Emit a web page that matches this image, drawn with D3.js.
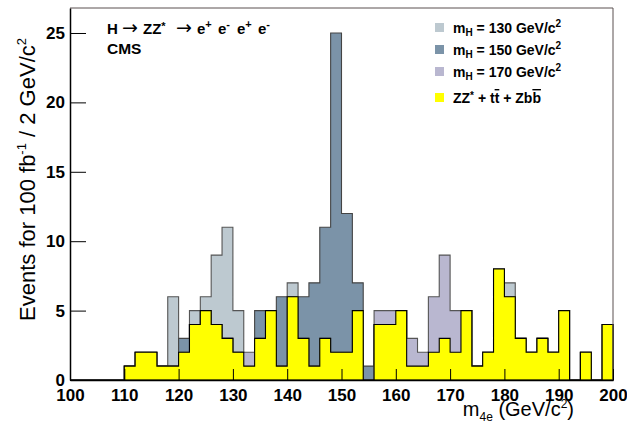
<!DOCTYPE html>
<html><head><meta charset="utf-8">
<script src="https://cdn.jsdelivr.net/npm/d3@7"></script>
<style>body{margin:0;background:#fff}text{font-family:"Liberation Sans",Arial,Helvetica,sans-serif}</style>
</head><body><svg id="c" width="627" height="425"></svg>
<script>
// bin lower edges (GeV/c^2), width 2
const binLow = [100,102,104,106,108,110,112,114,116,118,120,122,124,126,128,130,132,134,136,138,
                140,142,144,146,148,150,152,154,156,158,160,162,164,166,168,170,172,174,176,178,
                180,182,184,186,188,190,192,194,196,198];
const binWidth = 2;
// background ZZ* + tt + Zbb
const bkg = [0,0,0,0,0,1,2,2,1,1, 2,4,5,4,3,2,1,3,5,1, 6,3,1,3,2,2,5,0,4,4,
             5,1,1,2,3,2,5,1,2,8, 6,3,2,3,2,5,0,2,0,4];
// signal contributions (stacked on background)
const sig130 = [0,0,0,0,0,0,0,0,0,5, 0,1,1,5,8,3,0,0,0,0, 1,0,0,0,0,0,0,0,0,0,
                0,0,0,0,0,0,0,0,0,0, 1,0,0,0,0,0,0,0,0,0];
const sig150 = [0,0,0,0,0,0,0,0,0,0, 1,0,0,0,0,0,0,2,0,5, 0,3,6,8,23,10,2,1,0,0,
                0,0,0,0,0,0,0,0,0,0, 0,0,0,0,0,0,0,0,0,0];
const sig170 = [0,0,0,0,0,0,0,0,0,0, 0,0,0,0,0,0,1,0,0,0, 0,0,0,0,0,0,0,0,1,1,
                0,2,1,4,6,3,0,0,0,0, 0,0,0,0,0,0,0,0,0,0];
const xMajorTicks = [100,110,120,130,140,150,160,170,180,190,200];
const yMajorTicks = [0,5,10,15,20,25];
const legendLabels = ["130","150","170"];

const L = 70, R = 613, T = 8, B = 380;
const svg = d3.select("#c");
const x = d3.scaleLinear().domain([100,200]).range([L,R]);
const y = d3.scaleLinear().domain([0,26.8]).range([B,T]);

function pts(vals){
  const p = vals.map((v,i)=>[binLow[i], v]);
  p.push([binLow[binLow.length-1]+binWidth, vals[vals.length-1]]);
  return p;
}
const area = d3.area().x(d=>x(d[0])).y0(y(0)).y1(d=>y(d[1])).curve(d3.curveStepAfter);

const series = [
  {sig: sig130, fill:"#bdc9d0", stroke:"#555"},
  {sig: sig150, fill:"#7b93a8", stroke:"#444"},
  {sig: sig170, fill:"#b9b7d0", stroke:"#555"}
];
series.forEach(s=>{
  const tot = bkg.map((b,i)=>b+s.sig[i]);
  svg.append("path").attr("d", area(pts(tot))).attr("fill", s.fill)
    .attr("stroke", s.stroke).attr("stroke-width",1.1);
});
svg.append("path").attr("d", area(pts(bkg))).attr("fill","#ffff00")
  .attr("stroke","#000").attr("stroke-width",1.1);

// frame top/right
svg.append("path").attr("d",`M${L},${T}H${R}V${B}`).attr("fill","none").attr("stroke","#5a5050").attr("stroke-width",1);

// x axis
const xMinor = binLow.filter(v=>xMajorTicks.indexOf(v)<0);
const gx = svg.append("g").attr("transform",`translate(0,${B})`);
gx.call(d3.axisBottom(x).tickValues(xMinor).tickSize(-7).tickFormat(""));
gx.call(d3.axisBottom(x).tickValues(xMajorTicks).tickSizeInner(-11).tickSizeOuter(0).tickPadding(9).tickFormat(d3.format("d")));
gx.selectAll("text").attr("font-size",17).attr("font-weight","bold").attr("fill","#000");
gx.selectAll("line").attr("stroke","#000");
gx.selectAll(".domain").attr("stroke","#000").attr("stroke-width",1.5);

// y axis
const yMinor = d3.range(0,27).filter(v=>v%5!==0);
const gy = svg.append("g").attr("transform",`translate(${L},0)`);
gy.call(d3.axisLeft(y).tickValues(yMinor).tickSize(-8).tickFormat(""));
gy.call(d3.axisLeft(y).tickValues(yMajorTicks).tickSizeInner(-16).tickSizeOuter(0).tickPadding(5).tickFormat(d3.format("d")));
gy.selectAll("text").attr("font-size",17).attr("font-weight","bold").attr("fill","#000");
gy.selectAll("line").attr("stroke","#000");
gy.selectAll(".domain").attr("stroke","#000").attr("stroke-width",1.5);

// y title
const yt = svg.append("text").attr("transform","translate(35,38) rotate(-90)")
  .attr("text-anchor","end").attr("font-size",22).attr("fill","#000");
yt.append("tspan").text("Events for 100 fb");
yt.append("tspan").attr("font-size",13).attr("dy",-9).text("-1");
yt.append("tspan").attr("dy",9).text(" / 2 GeV/c");
yt.append("tspan").attr("font-size",13).attr("dy",-9).text("2");

// x title
const xt = svg.append("text").attr("x",574).attr("y",416).attr("text-anchor","end")
  .attr("font-size",20).attr("fill","#000");
xt.append("tspan").text("m");
xt.append("tspan").attr("font-size",12).attr("dy",5).text("4e");
xt.append("tspan").attr("dy",-5).text(" (GeV/c");
xt.append("tspan").attr("font-size",12).attr("dy",-8).text("2");
xt.append("tspan").attr("dy",8).text(")");

// top-left label
const by = 34;
const t1 = svg.append("text").attr("font-size",15).attr("font-weight","bold");
t1.append("tspan").attr("x",107).attr("y",by).text("H");
t1.append("tspan").attr("x",122).attr("y",by).attr("font-family","DejaVu Sans").attr("font-weight","normal").attr("font-size",19).text("\u2192");
t1.append("tspan").attr("x",143).attr("y",by).text("ZZ");
t1.append("tspan").attr("y",by-4).attr("font-size",11).text("*");
t1.append("tspan").attr("x",176).attr("y",by).attr("font-family","DejaVu Sans").attr("font-weight","normal").attr("font-size",19).text("\u2192");
const ePos = [[197,"+"],[218,"-"],[237,"+"],[258,"-"]];
ePos.forEach(p=>{
  t1.append("tspan").attr("x",p[0]).attr("y",by).text("e");
  t1.append("tspan").attr("y",by-6).attr("font-size",11).text(p[1]);
});
svg.append("text").attr("x",107).attr("y",54).attr("font-size",15.5).attr("font-weight","bold").text("CMS");

// legend
const legY = [28,50,72];
series.forEach((s,i)=>{
  svg.append("rect").attr("x",435).attr("y",legY[i]-5).attr("width",9).attr("height",9).attr("fill",s.fill);
  const t = svg.append("text").attr("x",453).attr("y",legY[i]+5).attr("font-size",14).attr("font-weight","bold");
  t.append("tspan").text("m");
  t.append("tspan").attr("font-size",10).attr("dy",3).text("H");
  t.append("tspan").attr("dy",-3).text(" = " + legendLabels[i] + " GeV/c");
  t.append("tspan").attr("font-size",10).attr("dy",-6).text("2");
});
svg.append("rect").attr("x",435).attr("y",93).attr("width",9).attr("height",9).attr("fill","#ffff00");
const tb = svg.append("text").attr("x",453).attr("y",103).attr("font-size",14).attr("font-weight","bold");
tb.append("tspan").text("ZZ");
tb.append("tspan").attr("font-size",10).attr("dy",-4).text("*");
tb.append("tspan").attr("dy",4).text(" + t");
tb.append("tspan").attr("style","text-decoration:overline").text("t");
tb.append("tspan").text(" + Zb");
tb.append("tspan").attr("style","text-decoration:overline").text("b");
</script></body></html>
